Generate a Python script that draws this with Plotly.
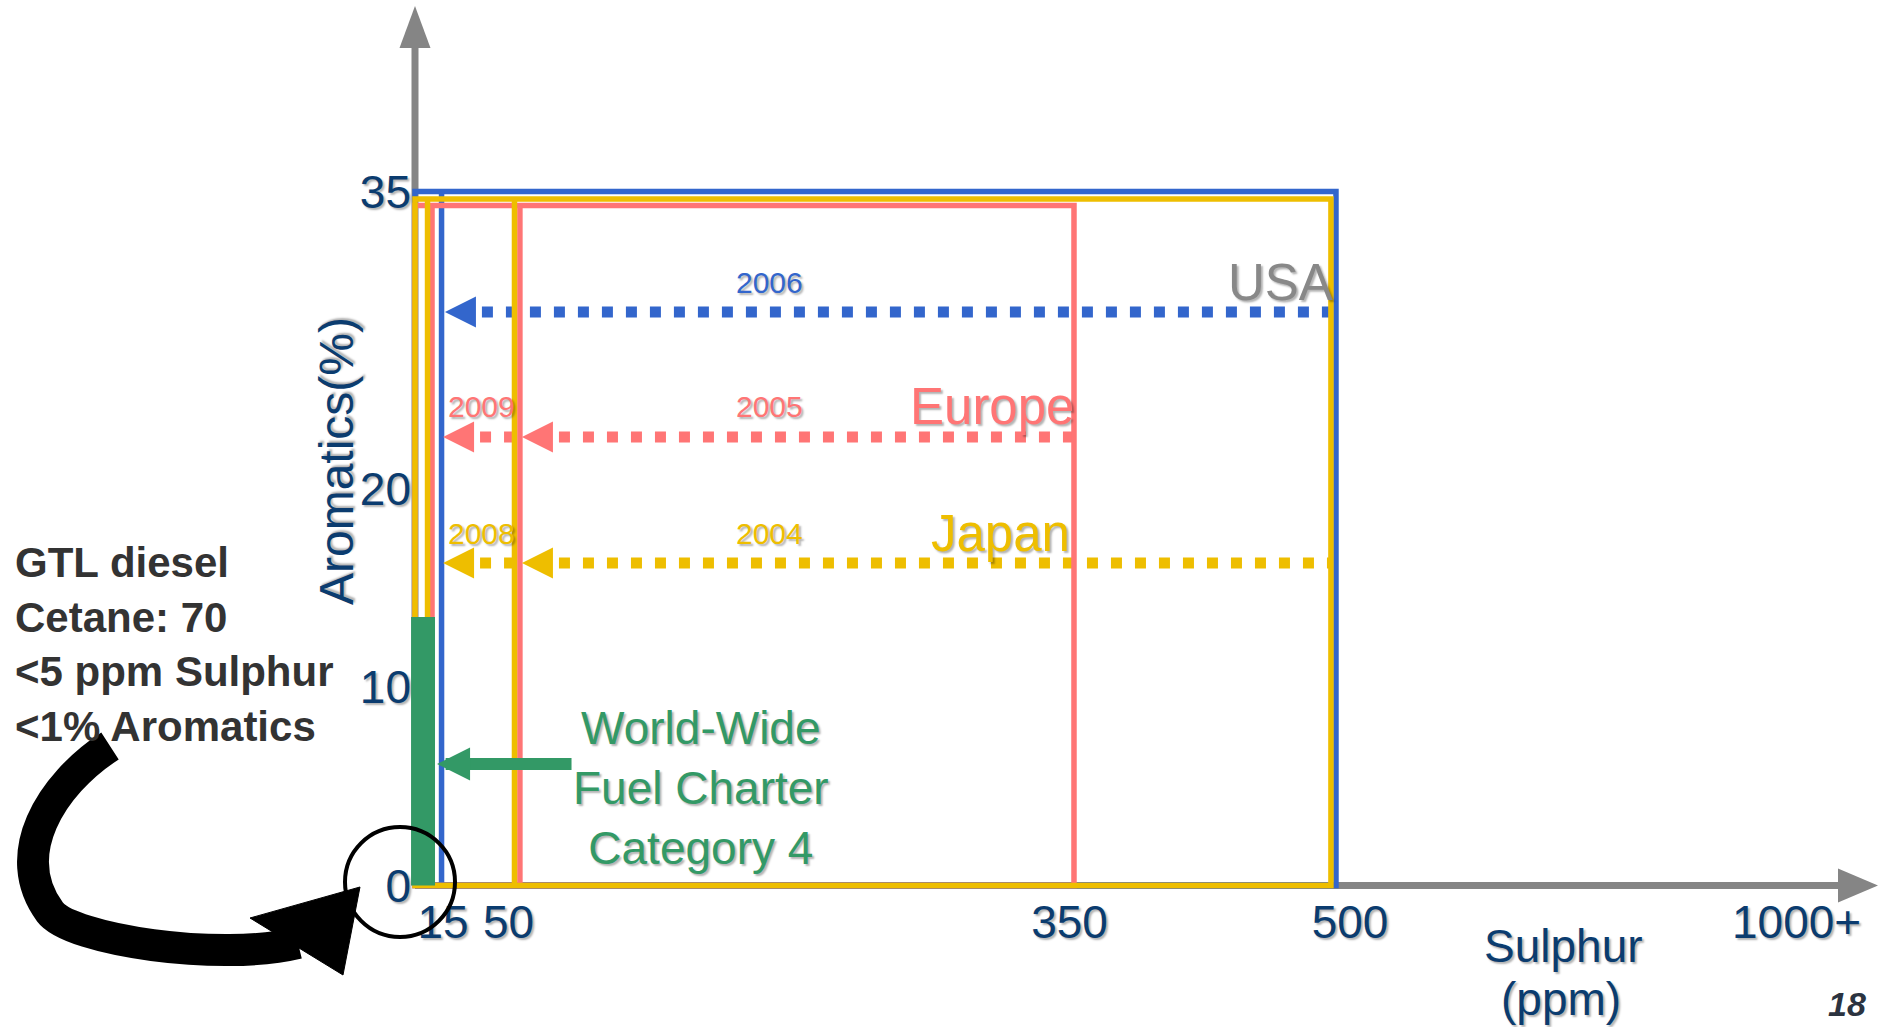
import plotly.graph_objects as go

W, H = 1879, 1027

# ---------------- values ----------------
regions = ["USA", "Europe", "Japan"]
region_colors = ["#3366CC", "#FF7575", "#EEBE00"]
region_label_colors = ["#888888", "#FF7575", "#EEBE00"]
box_sulphur = [492.5, 352.4, 489.8]          # ppm, outer limit as drawn
box_aromatics = [35.0, 34.29, 34.62]          # %, as drawn
step_sulphur = [[14.2], [56.1, 9.1], [53.2, 6.7]]
region_label_x = [462.6, 308.6, 313.1]

arrow_region = [0, 1, 1, 2, 2]
arrow_year = ["2006", "2005", "2009", "2004", "2008"]
arrow_aromatics = [28.92, 22.62, 22.62, 16.26, 16.26]
arrow_start = [492.5, 352.4, 52.4, 489.8, 52.4]
arrow_tip = [16.0, 57.2, 15.0, 57.2, 15.0]
year_label_x = [189.8, 189.8, 35.3, 189.8, 35.3]

wwfc_sulphur = [-2.1, 10.7]
wwfc_aromatics = [0.0, 13.54]
wwfc_arrow_sulphur = [84.5, 11.8]
wwfc_arrow_aromatics = 6.13

x_tick_vals = [15, 50, 350, 500, 738.8]
x_tick_text = ["15", "50", "350", "500", "1000+"]
y_tick_vals = [0, 10, 20, 35]
y_tick_text = ["0", "10", "20", "35"]

# ---------------- calibration / styling ----------------
X0_PX, PX_PER_PPM = 415.0, 1.87
Y0_PX, PX_PER_PCT = 885.5, 19.83
x_range = [-X0_PX / PX_PER_PPM, (W - X0_PX) / PX_PER_PPM]
y_range = [-(H - Y0_PX) / PX_PER_PCT, Y0_PX / PX_PER_PCT]

FONT = "Liberation Sans, Arial, sans-serif"
NAVY = "#0B3C6F"
SHADOW = "2px 2px 2px rgba(0,0,0,0.30)"
GRAY = "#858585"
GREEN = "#339966"


def px(x):
    return x / W


def py(y):
    return 1 - y / H


def pt(p):
    return f"{px(p[0]):.5f},{py(p[1]):.5f}"


fig = go.Figure()

shapes = []
# gray axes (drawn as schematic arrows)
shapes.append(dict(type="line", xref="x", yref="y", x0=0, x1=0, y0=0, y1=y_range[1] - 2,
                   line=dict(color=GRAY, width=7)))
shapes.append(dict(type="line", xref="x", yref="y", x0=0, x1=x_range[1] - 15, y0=0, y1=0,
                   line=dict(color=GRAY, width=7)))
tri_y = [(X0_PX, 6), (X0_PX - 15.5, 48), (X0_PX + 15.5, 48)]
tri_x = [(W - 1, Y0_PX), (W - 41, Y0_PX - 17), (W - 41, Y0_PX + 17)]
for tri in (tri_y, tri_x):
    path = "M " + " L ".join(pt(q) for q in tri) + " Z"
    shapes.append(dict(type="path", xref="paper", yref="paper", path=path,
                       fillcolor=GRAY, line=dict(width=0)))

# region boxes
for i, r in enumerate(regions):
    shapes.append(dict(type="rect", xref="x", yref="y", x0=0, x1=box_sulphur[i],
                       y0=0, y1=box_aromatics[i],
                       line=dict(color=region_colors[i], width=5.5)))
    for s in step_sulphur[i]:
        shapes.append(dict(type="line", xref="x", yref="y", x0=s, x1=s,
                           y0=0, y1=box_aromatics[i],
                           line=dict(color=region_colors[i], width=5.5)))

# World-Wide Fuel Charter category 4 bar
shapes.append(dict(type="rect", xref="x", yref="y", x0=wwfc_sulphur[0], x1=wwfc_sulphur[1],
                   y0=wwfc_aromatics[0], y1=wwfc_aromatics[1],
                   fillcolor=GREEN, line=dict(width=0)))

# black circle around the origin
cx, cy, cr = 400, 882, 55
shapes.append(dict(type="circle", xref="paper", yref="paper",
                   x0=px(cx - cr), x1=px(cx + cr), y0=py(cy + cr), y1=py(cy - cr),
                   line=dict(color="black", width=4)))

# curved black arrow from the GTL text to the circle
c = [(110, 746), (50, 785), (8, 855), (50, 912), (71, 940), (220, 962), (298, 943)]
cpath = (f"M {pt(c[0])} C {pt(c[1])} {pt(c[2])} {pt(c[3])} "
         f"C {pt(c[4])} {pt(c[5])} {pt(c[6])}")
shapes.append(dict(type="path", xref="paper", yref="paper", path=cpath,
                   line=dict(color="black", width=32)))
head = [(360, 887), (250, 918), (343, 975)]
hpath = "M " + " L ".join(pt(q) for q in head) + " Z"
shapes.append(dict(type="path", xref="paper", yref="paper", path=hpath,
                   fillcolor="black", line=dict(color="black", width=1)))

# dotted arrows (traces)
HEAD_PPM = 31 / PX_PER_PPM
GAP_PPM = 6 / PX_PER_PPM
for k in range(len(arrow_year)):
    col = region_colors[arrow_region[k]]
    fig.add_trace(go.Scatter(
        x=[arrow_tip[k] + HEAD_PPM + GAP_PPM, arrow_start[k]],
        y=[arrow_aromatics[k], arrow_aromatics[k]],
        mode="lines", line=dict(color=col, width=11, dash="11px,13px"),
        hoverinfo="skip", showlegend=False))

annotations = []
for k in range(len(arrow_year)):
    col = region_colors[arrow_region[k]]
    annotations.append(dict(x=arrow_tip[k], y=arrow_aromatics[k], xref="x", yref="y",
                            ax=arrow_tip[k] + HEAD_PPM, ay=arrow_aromatics[k],
                            axref="x", ayref="y", text="", showarrow=True,
                            arrowhead=2, arrowwidth=2, arrowsize=3.1, arrowcolor=col,
                            standoff=0, startstandoff=0))
    annotations.append(dict(x=year_label_x[k], y=arrow_aromatics[k], xref="x", yref="y",
                            xanchor="center", yanchor="middle",
                            yshift=30, text=arrow_year[k], showarrow=False,
                            font=dict(family=FONT, size=30, color=col, shadow=SHADOW)))

first_arrow = [arrow_region.index(i) for i in range(len(regions))]
for i, r in enumerate(regions):
    annotations.append(dict(x=region_label_x[i], y=arrow_aromatics[first_arrow[i]],
                            xref="x", yref="y", xanchor="center", yanchor="middle",
                            yshift=30, text=r, showarrow=False,
                            font=dict(family=FONT, size=51, color=region_label_colors[i],
                                      shadow=SHADOW)))

# WWFC arrow + label
annotations.append(dict(x=wwfc_arrow_sulphur[1], y=wwfc_arrow_aromatics, xref="x", yref="y",
                        ax=wwfc_arrow_sulphur[0], ay=wwfc_arrow_aromatics, axref="x", ayref="y",
                        text="", showarrow=True, arrowhead=2, arrowwidth=12, arrowsize=0.55,
                        arrowcolor=GREEN, standoff=0, startstandoff=0))
annotations.append(dict(x=px(701), y=py(788), xref="paper", yref="paper",
                        xanchor="center", yanchor="middle",
                        text="World-Wide<br>Fuel Charter<br>Category 4", showarrow=False,
                        align="center",
                        font=dict(family=FONT, size=46, color=GREEN, shadow=SHADOW)))

# GTL diesel text
annotations.append(dict(x=px(13), y=py(644), xref="paper", yref="paper", xanchor="left",
                        yanchor="middle", align="left",
                        text="<b>GTL diesel<br>Cetane: 70<br>&lt;5 ppm Sulphur<br>&lt;1% Aromatics</b>",
                        showarrow=False, font=dict(family=FONT, size=42, color="#333333")))

# axis titles
annotations.append(dict(x=px(336), y=py(461), xref="paper", yref="paper", text="Aromatics(%)",
                        xanchor="center", yanchor="middle",
                        textangle=-90, showarrow=False,
                        font=dict(family=FONT, size=48, color=NAVY, shadow=SHADOW)))
annotations.append(dict(x=px(1563), y=py(946), xref="paper", yref="paper", text="Sulphur",
                        xanchor="center", yanchor="middle",
                        showarrow=False, font=dict(family=FONT, size=46, color=NAVY, shadow=SHADOW)))
annotations.append(dict(x=px(1561), y=py(999), xref="paper", yref="paper", text="(ppm)",
                        xanchor="center", yanchor="middle",
                        showarrow=False, font=dict(family=FONT, size=46, color=NAVY, shadow=SHADOW)))

# slide number (kept fully inside the page)
annotations.append(dict(x=px(1826), y=py(1025), xref="paper", yref="paper", xanchor="left",
                        yanchor="bottom", text="<b><i>18</i></b>", showarrow=False,
                        font=dict(family=FONT, size=34, color="#2B3340")))

fig.update_layout(
    width=W, height=H,
    margin=dict(l=0, r=0, t=0, b=0),
    paper_bgcolor="white", plot_bgcolor="white",
    showlegend=False,
    shapes=shapes, annotations=annotations,
    xaxis=dict(range=x_range, anchor="free", position=(H - Y0_PX) / H,
               showgrid=False, zeroline=False, showline=False, ticks="",
               tickvals=x_tick_vals, ticktext=x_tick_text, automargin=False,
               ticklabelstandoff=5,
               tickfont=dict(family=FONT, size=46, color=NAVY, shadow=SHADOW),
               fixedrange=True),
    yaxis=dict(range=y_range, anchor="free", position=X0_PX / W,
               showgrid=False, zeroline=False, showline=False, ticks="",
               tickvals=y_tick_vals, ticktext=y_tick_text, automargin=False,
               ticklabelstandoff=4,
               tickfont=dict(family=FONT, size=46, color=NAVY, shadow=SHADOW),
               fixedrange=True),
)

fig.write_html("out.html",
               config={"displayModeBar": False},
               post_script="document.body.style.margin='0px';"
                           "document.body.style.overflow='hidden';")
